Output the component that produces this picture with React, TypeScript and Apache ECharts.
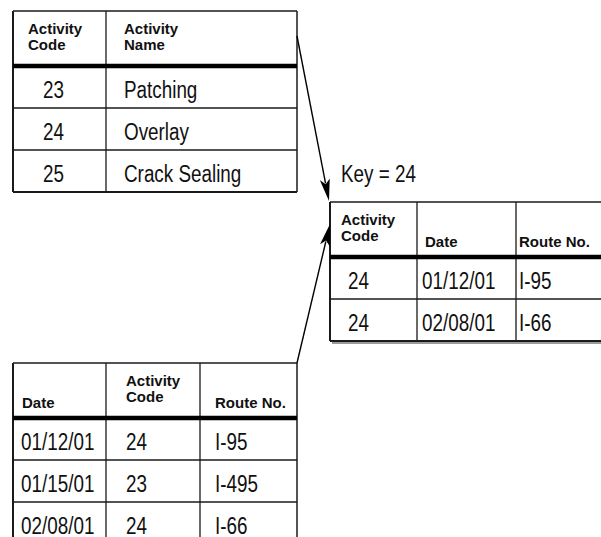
import React, { useEffect, useRef } from "react";
import * as echarts from "echarts";

// ---- Data ----
const activityHeaders = [["Activity", "Code"], ["Activity", "Name"]];
const activityCodes = ["23", "24", "25"];
const activityNames = ["Patching", "Overlay", "Crack Sealing"];

const logHeaders = [["Date"], ["Activity", "Code"], ["Route No."]];
const logDates = ["01/12/01", "01/15/01", "02/08/01"];
const logCodes = ["24", "23", "24"];
const logRoutes = ["I-95", "I-495", "I-66"];

const keyValue = "24";
const resultHeaders = [["Activity", "Code"], ["Date"], ["Route No."]];

// ---- Layout ----
const HEADER_H = 55;
const ROW_H = 42;
const LINE = "#1a1a1a";
const BODY_FONT = '23px "Liberation Sans", Arial, sans-serif';
const BODY_SCALE = 0.82;
const HEAD_FONT = 'bold 15px "Liberation Sans", Arial, sans-serif';

type TableSpec = {
  cols: number[]; // column edges
  top: number;
  headers: string[][];
  rows: string[][];
  headOffsets: number[];
  bodyOffsets: number[];
  rightBorder: boolean;
  shadow?: boolean;
};

function txt(x: number, y: number, text: string, font: string, scaleX = 1) {
  return {
    type: "text",
    x,
    y,
    scaleX,
    silent: true,
    style: {
      text,
      font,
      fill: "#111",
      align: "left",
      verticalAlign: "middle",
      textAlign: "left",
      textVerticalAlign: "middle",
    },
  };
}

function line(x1: number, y1: number, x2: number, y2: number, w: number, color = LINE) {
  return {
    type: "line",
    silent: true,
    shape: { x1, y1, x2, y2 },
    style: { stroke: color, lineWidth: w },
  };
}

function buildTable(t: TableSpec) {
  const els: any[] = [];
  const left = t.cols[0];
  const right = t.cols[t.cols.length - 1];
  const headBottom = t.top + HEADER_H;
  const bottom = headBottom + t.rows.length * ROW_H;
  els.push({
    type: "rect",
    silent: true,
    shape: { x: left, y: t.top, width: right - left, height: bottom - t.top },
    style: { fill: "#fff" },
  });
  if (t.shadow) {
    els.push(line(left + 2, bottom + 2, right, bottom + 2, 2, "#9a9a9a"));
  }
  els.push(line(left, t.top, right, t.top, 1.5));
  els.push(line(left, t.top, left, bottom, 2));
  els.push(line(left, bottom, right, bottom, 1.8));
  if (t.rightBorder) els.push(line(right, t.top, right, bottom, 1.5));
  for (let i = 1; i < t.cols.length - 1; i++) {
    els.push(line(t.cols[i], t.top, t.cols[i], bottom, 1.3));
  }
  for (let r = 1; r < t.rows.length; r++) {
    const y = headBottom + r * ROW_H;
    els.push(line(left, y, right, y, 1.3));
  }
  els.push(line(left, headBottom, right, headBottom, 4.5, "#000"));
  t.headers.forEach((h, c) => {
    const x = t.cols[c] + t.headOffsets[c];
    if (h.length === 2) {
      els.push(txt(x, t.top + 17, h[0], HEAD_FONT));
      els.push(txt(x, t.top + 33, h[1], HEAD_FONT));
    } else {
      els.push(txt(x, t.top + 39, h[0], HEAD_FONT));
    }
  });
  t.rows.forEach((row, r) => {
    const cy = headBottom + r * ROW_H + ROW_H / 2 + 3;
    row.forEach((v, c) => {
      els.push(txt(t.cols[c] + t.bodyOffsets[c], cy, v, BODY_FONT, BODY_SCALE));
    });
  });
  return els;
}

function arrow(x1: number, y1: number, x2: number, y2: number) {
  const dx = x2 - x1;
  const dy = y2 - y1;
  const len = Math.sqrt(dx * dx + dy * dy);
  const ux = dx / len;
  const uy = dy / len;
  const headLen = 22;
  const headW = 5;
  const bx = x2 - ux * headLen;
  const by = y2 - uy * headLen;
  const px = -uy * headW;
  const py = ux * headW;
  return [
    line(x1, y1, bx + ux * 4, by + uy * 4, 1.4, "#000"),
    {
      type: "polygon",
      silent: true,
      shape: {
        points: [
          [x2, y2],
          [bx + px, by + py],
          [bx + ux * 5, by + uy * 5],
          [bx - px, by - py],
        ],
      },
      style: { fill: "#000" },
    },
  ];
}

export default function App() {
  const ref = useRef<HTMLDivElement>(null);

  useEffect(() => {
    if (!ref.current) return;
    const chart = echarts.init(ref.current, undefined, { renderer: "svg" });

    const activityRows = activityCodes.map((c, i) => [c, activityNames[i]]);
    const logRows = logDates.map((d, i) => [d, logCodes[i], logRoutes[i]]);
    const resultRows = logDates
      .map((d, i) => ({ d, c: logCodes[i], r: logRoutes[i] }))
      .filter((x) => x.c === keyValue)
      .map((x) => [x.c, x.d, x.r]);

    const elements: any[] = [
      ...buildTable({
        cols: [13, 106, 297],
        top: 11,
        headers: activityHeaders,
        rows: activityRows,
        headOffsets: [15, 18],
        bodyOffsets: [30, 18],
        rightBorder: true,
      }),
      ...buildTable({
        cols: [330, 417, 516, 640],
        top: 202,
        headers: resultHeaders,
        rows: resultRows,
        headOffsets: [11, 8, 3],
        bodyOffsets: [18, 5, 3],
        rightBorder: false,
        shadow: true,
      }),
      ...buildTable({
        cols: [13, 106, 200, 297],
        top: 363,
        headers: logHeaders,
        rows: logRows,
        headOffsets: [9, 20, 15],
        bodyOffsets: [8, 20, 15],
        rightBorder: true,
      }),
      txt(341, 174, "Key = " + keyValue, BODY_FONT, BODY_SCALE),
      ...arrow(297, 36, 329, 201),
      ...arrow(297, 363, 330, 224),
    ];

    chart.setOption({
      animation: false,
      backgroundColor: "#fff",
      graphic: { elements },
    });

    return () => chart.dispose();
  }, []);

  return (
    <div
      ref={ref}
      style={{ position: "fixed", left: 0, top: 0, width: 601, height: 537, background: "#fff" }}
    />
  );
}
